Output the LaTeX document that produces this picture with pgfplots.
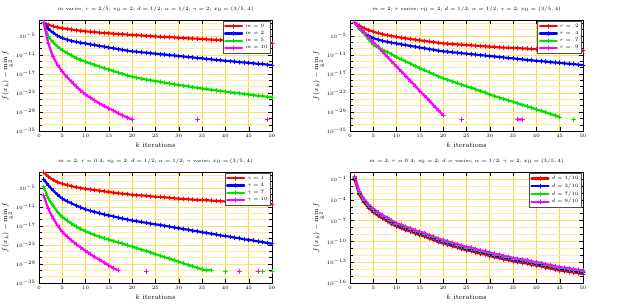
\documentclass[border=0pt]{standalone}
\usepackage{amsmath,amssymb}
\usepackage{pgfplots}
\usepackage{pgfplotstable}
\pgfplotsset{compat=1.18}
\definecolor{cred}{RGB}{255,0,0}
\definecolor{cblue}{RGB}{0,0,255}
\definecolor{cgreen}{RGB}{0,225,0}
\definecolor{cmag}{RGB}{255,0,255}
\definecolor{gmaj}{RGB}{252,214,60}
\definecolor{gymaj}{RGB}{252,225,110}
\definecolor{gmin}{RGB}{253,236,160}

\pgfplotstableread{
k a b c d
1 1.6e-1 1.6e-1 1.6e-1 1.6e-1
2 3.2e-2 1.6e-3 5e-6 4e-8
3 1e-2 1e-4 1e-7 2.5e-12
4 5e-3 1e-5 4e-9 6.3e-15
5 2.5e-3 2e-6 3.2e-10 5e-17
6 1.6e-3 6.3e-7 4e-11 1e-18
7 1e-3 2.5e-7 6.3e-12 3.2e-20
8 6.3e-4 1.3e-7 1e-12 1e-21
9 4e-4 6.3e-8 2.5e-13 5e-23
10 2.5e-4 4e-8 6.3e-14 3.2e-24
11 2e-4 2e-8 2e-14 3.2e-25
12 1.6e-4 1.3e-8 6.3e-15 4e-26
13 1e-4 6.3e-9 2e-15 5e-27
14 7.9e-5 4e-9 6.3e-16 7.9e-28
15 6.3e-5 2e-9 2.5e-16 1.3e-28
16 5e-5 1.3e-9 7.9e-17 2.5e-29
17 4e-5 6.3e-10 2.5e-17 4e-30
18 3.2e-5 4e-10 1e-17 7.9e-31
19 2.5e-5 2e-10 3.2e-18 1.6e-31
20 2e-5 1.3e-10 1.3e-18 4e-32
21 1.6e-5 1e-10 6.3e-19 nan
22 1.3e-5 6.3e-11 3.2e-19 nan
23 1e-5 5e-11 1.6e-19 nan
24 7.9e-6 3.2e-11 1e-19 nan
25 6.3e-6 2.5e-11 5e-20 nan
26 5e-6 1.6e-11 3.2e-20 nan
27 4.5e-6 1.3e-11 1.6e-20 nan
28 4e-6 7.9e-12 1e-20 nan
29 3.2e-6 6.3e-12 5e-21 nan
30 2.5e-6 4e-12 3.2e-21 nan
31 2e-6 3.2e-12 2e-21 nan
32 1.6e-6 2e-12 1.3e-21 nan
33 1.4e-6 1.6e-12 6.3e-22 nan
34 1.3e-6 1e-12 4e-22 4e-32
35 1e-6 7.9e-13 2.5e-22 nan
36 7.9e-7 5e-13 1.6e-22 nan
37 6.3e-7 4e-13 1e-22 nan
38 5.6e-7 2.5e-13 6.3e-23 nan
39 5e-7 2e-13 4e-23 nan
40 4e-7 1.3e-13 2.5e-23 nan
41 3.2e-7 1e-13 1.6e-23 nan
42 2.5e-7 7.9e-14 1e-23 nan
43 2.2e-7 5e-14 7.9e-24 nan
44 2e-7 4e-14 5e-24 nan
45 1.6e-7 3.2e-14 3.2e-24 nan
46 1.3e-7 2e-14 2e-24 nan
47 1e-7 1.6e-14 1.3e-24 nan
48 7.9e-8 1.3e-14 1e-24 nan
49 6.3e-8 7.9e-15 6.3e-25 4e-32
50 5e-8 6.3e-15 4e-25 nan
}\tabA

\pgfplotstableread{
k a b c d
1 1.6e-1 1.6e-1 1.6e-1 1.6e-1
2 1.6e-2 1.6e-3 2.5e-3 5e-3
3 2.5e-3 1e-4 5e-5 1.3e-4
4 6.3e-4 1e-5 7.9e-7 4e-6
5 2e-4 2e-6 1.6e-8 1e-7
6 7.9e-5 6.3e-7 2.5e-9 3.2e-9
7 3.2e-5 2.5e-7 4e-10 1e-10
8 1.6e-5 1.3e-7 7.9e-11 2.5e-12
9 7.9e-6 6.3e-8 1.3e-11 7.9e-14
10 5e-6 4e-8 2e-12 2e-15
11 2.5e-6 2e-8 4e-13 6.3e-17
12 1.6e-6 1.3e-8 7.9e-14 2e-18
13 1e-6 6.3e-9 1.6e-14 5e-20
14 6.3e-7 4e-9 3.2e-15 1.6e-21
15 4e-7 2e-9 6.3e-16 4e-23
16 2.5e-7 1.3e-9 1.6e-16 1.3e-24
17 1.6e-7 6.3e-10 3.2e-17 4e-26
18 1e-7 4e-10 7.9e-18 1e-27
19 6.3e-8 2e-10 1.6e-18 3.2e-29
20 4e-8 1.3e-10 4e-19 1e-30
21 3.2e-8 1e-10 1.3e-19 nan
22 2.5e-8 6.3e-11 4e-20 nan
23 2e-8 5e-11 1.3e-20 nan
24 1.6e-8 3.2e-11 4e-21 4e-32
25 1.3e-8 2.5e-11 1.3e-21 nan
26 1e-8 1.6e-11 4e-22 nan
27 7.9e-9 1.3e-11 1.3e-22 nan
28 6.3e-9 7.9e-12 4e-23 nan
29 5e-9 6.3e-12 1.3e-23 nan
30 4e-9 4e-12 3.2e-24 nan
31 3.2e-9 3.2e-12 1e-24 nan
32 2.5e-9 2e-12 3.2e-25 nan
33 2e-9 1.6e-12 1.3e-25 nan
34 1.8e-9 1e-12 4e-26 nan
35 1.6e-9 7.9e-13 1.6e-26 nan
36 1.3e-9 5e-13 5e-27 4e-32
37 1.1e-9 4e-13 1.6e-27 4e-32
38 1e-9 2.5e-13 6.3e-28 nan
39 7.9e-10 2e-13 2e-28 nan
40 6.3e-10 1.3e-13 6.3e-29 nan
41 5.6e-10 1e-13 2.5e-29 nan
42 5e-10 7.9e-14 7.9e-30 nan
43 4.5e-10 5e-14 2.5e-30 nan
44 4e-10 4e-14 7.9e-31 nan
45 3.5e-10 3.2e-14 2.5e-31 nan
46 3.2e-10 2e-14 nan nan
47 2.8e-10 1.6e-14 nan nan
48 2.5e-10 1.3e-14 4e-32 nan
49 2.2e-10 7.9e-15 nan nan
50 2e-10 6.3e-15 nan nan
}\tabB

\pgfplotstableread{
k a b c d
1 7.9e-1 5e-3 2e-5 4e-8
2 3.2e-2 6.3e-5 4e-9 2.5e-12
3 3.2e-3 1.6e-6 2.5e-11 3.2e-15
4 6.3e-4 6.3e-8 2.5e-13 1.3e-17
5 2e-4 4e-9 6.3e-15 1.3e-19
6 7.9e-5 6.3e-10 5e-16 5e-21
7 3.2e-5 1.3e-10 5e-17 2.5e-22
8 1.6e-5 2.5e-11 6.3e-18 1.6e-23
9 7.9e-6 6.3e-12 1e-18 1.3e-24
10 5e-6 1.6e-12 2e-19 1.3e-25
11 3.2e-6 6.3e-13 5e-20 1.3e-26
12 2e-6 2.5e-13 1.3e-20 1.6e-27
13 1.3e-6 1e-13 4e-21 2e-28
14 7.9e-7 4e-14 1.3e-21 2.5e-29
15 5e-7 2e-14 5e-22 3.2e-30
16 3.2e-7 1e-14 1.6e-22 5e-31
17 2e-7 4e-15 6.3e-23 1e-31
18 1.3e-7 2e-15 2.5e-23 nan
19 1e-7 1e-15 7.9e-24 nan
20 6.3e-8 5e-16 3.2e-24 nan
21 5e-8 3.2e-16 1e-24 nan
22 4e-8 1.6e-16 3.2e-25 nan
23 3.2e-8 1e-16 1.3e-25 4e-32
24 2e-8 5e-17 4e-26 nan
25 1.6e-8 3.2e-17 1.3e-26 nan
26 1.3e-8 2e-17 4e-27 nan
27 1e-8 1e-17 1.3e-27 nan
28 7.9e-9 6.3e-18 5e-28 nan
29 5e-9 3.2e-18 1.6e-28 nan
30 4e-9 2e-18 5e-29 nan
31 3.2e-9 1e-18 1.6e-29 nan
32 2.5e-9 6.3e-19 5e-30 nan
33 2e-9 3.2e-19 2e-30 nan
34 1.6e-9 2e-19 6.3e-31 nan
35 1.4e-9 1e-19 2e-31 nan
36 1.3e-9 6.3e-20 1e-31 nan
37 1e-9 3.2e-20 1e-31 nan
38 7.9e-10 2e-20 nan nan
39 6.3e-10 1e-20 nan nan
40 5e-10 6.3e-21 4e-32 nan
41 4e-10 4e-21 nan nan
42 3.2e-10 2e-21 nan nan
43 2.5e-10 1.3e-21 nan 4e-32
44 2.3e-10 6.3e-22 nan nan
45 2e-10 4e-22 nan nan
46 1.6e-10 2.5e-22 nan nan
47 1.3e-10 1.3e-22 nan 4e-32
48 1e-10 7.9e-23 4e-32 nan
49 7.9e-11 4e-23 nan nan
50 6.3e-11 2.5e-23 4e-32 nan
}\tabC

\pgfplotstableread{
k a b c d
1 6.3e-2 1.3e-1 1.8e-1 2.5e-1
2 5e-4 7.9e-4 1.1e-3 1.6e-3
3 4e-5 6.3e-5 8.9e-5 1.3e-4
4 6.3e-6 1e-5 1.4e-5 2e-5
5 1.6e-6 2.5e-6 3.5e-6 5e-6
6 5e-7 7.9e-7 1.1e-6 1.6e-6
7 2e-7 3.2e-7 4.5e-7 6.3e-7
8 7.9e-8 1.3e-7 1.8e-7 2.5e-7
9 3.2e-8 5e-8 7.1e-8 1e-7
10 1.3e-8 2e-8 2.8e-8 4e-8
11 7.9e-9 1.3e-8 1.8e-8 2.5e-8
12 4e-9 6.3e-9 8.9e-9 1.3e-8
13 2.5e-9 4e-9 5.6e-9 7.9e-9
14 1.3e-9 2e-9 2.8e-9 4e-9
15 7.9e-10 1.3e-9 1.8e-9 2.5e-9
16 5e-10 7.9e-10 1.1e-9 1.6e-9
17 2.5e-10 4e-10 5.6e-10 7.9e-10
18 1.6e-10 2.5e-10 3.5e-10 5e-10
19 7.9e-11 1.3e-10 1.8e-10 2.5e-10
20 5e-11 7.9e-11 1.1e-10 1.6e-10
21 3.2e-11 5e-11 7.1e-11 1e-10
22 2e-11 3.2e-11 4.5e-11 6.3e-11
23 1.3e-11 2e-11 2.8e-11 4e-11
24 7.9e-12 1.3e-11 1.8e-11 2.5e-11
25 5e-12 7.9e-12 1.1e-11 1.6e-11
26 4e-12 6.3e-12 8.9e-12 1.3e-11
27 2.5e-12 4e-12 5.6e-12 7.9e-12
28 1.6e-12 2.5e-12 3.5e-12 5e-12
29 1.3e-12 2e-12 2.8e-12 4e-12
30 7.9e-13 1.3e-12 1.8e-12 2.5e-12
31 5e-13 7.9e-13 1.1e-12 1.6e-12
32 4e-13 6.3e-13 8.9e-13 1.3e-12
33 2.5e-13 4e-13 5.6e-13 7.9e-13
34 2e-13 3.2e-13 4.5e-13 6.3e-13
35 1.3e-13 2e-13 2.8e-13 4e-13
36 1e-13 1.6e-13 2.2e-13 3.2e-13
37 7.9e-14 1.3e-13 1.8e-13 2.5e-13
38 6.3e-14 1e-13 1.4e-13 2e-13
39 4e-14 6.3e-14 8.9e-14 1.3e-13
40 3.2e-14 5e-14 7.1e-14 1e-13
41 2.5e-14 4e-14 5.6e-14 7.9e-14
42 1.6e-14 2.5e-14 3.5e-14 5e-14
43 1.3e-14 2e-14 2.8e-14 4e-14
44 7.9e-15 1.3e-14 1.8e-14 2.5e-14
45 6.3e-15 1e-14 1.4e-14 2e-14
46 5e-15 7.9e-15 1.1e-14 1.6e-14
47 4e-15 6.3e-15 8.9e-15 1.3e-14
48 3.2e-15 5e-15 7.1e-15 1e-14
49 2.5e-15 4e-15 5.6e-15 7.9e-15
50 2e-15 3.2e-15 4.5e-15 6.3e-15
}\tabD

\pgfplotsset{
  every axis/.append style={
    scale only axis, width=233pt, height=111pt,
    xmin=0, xmax=50, xtick={0,5,...,50},
    grid=both,
    major x grid style={gmaj, line width=0.7pt},
    major y grid style={gymaj, line width=0.5pt},
    minor y grid style={gmin, line width=0.5pt},
    tick label style={font=\fontsize{5.2}{6}\selectfont},
    xlabel style={font=\fontsize{7}{8}\selectfont, yshift=2pt},
    ylabel style={font=\fontsize{7}{8}\selectfont, yshift=-5pt},
    title style={font=\fontsize{4.6}{5.5}\selectfont, yshift=-1.5pt},
    unbounded coords=jump,
    tick style={black, line width=0.3pt},
    axis line style={line width=0.5pt},
    legend cell align=left,
    legend style={at={(0.995,0.995)}, anchor=north east,
      draw=black!70, line width=0.8pt, fill=white,
      font=\fontsize{4.3}{5}\selectfont, inner sep=1pt, row sep=-1.5pt},
  },
  every axis plot/.append style={line width=2.2pt, line join=round, line cap=round,
    mark=+, mark size=1.9pt, mark options={line width=0.9pt}},
}

\begin{document}
\begin{tikzpicture}
\useasboundingbox (0,0) rectangle (622pt,305pt);

\begin{axis}[ymode=log, at={(39pt,174pt)}, anchor=south west,
  ymin=1e-35, ymax=1,
  ytick={1e-35,1e-29,1e-23,1e-17,1e-11,1e-5},
  minor ytick={1e-1,1e-3,1e-7,1e-9,1e-13,1e-15,1e-19,1e-21,1e-25,1e-27,1e-31,1e-33},
  xlabel={$k$ iterations},
  ylabel={$f(x_k)-\min\limits_{\mathbb{R}^2} f$},
  title={$m$ varies, $r=2/5$; $v_0=2$; $d=1/2$; $\alpha=1/2$; $\gamma=2$; $x_0=(3/5,4)$}]
\addplot[color=cred] table[x=k,y=a] {\tabA};
\addplot[color=cblue] table[x=k,y=b] {\tabA};
\addplot[color=cgreen] table[x=k,y=c] {\tabA};
\addplot[color=cmag] table[x=k,y=d] {\tabA};
\legend{$m=0$,$m=2$,$m=5$,$m=10$}
\end{axis}

\begin{axis}[ymode=log, at={(350pt,174pt)}, anchor=south west,
  ymin=1e-35, ymax=1,
  ytick={1e-35,1e-29,1e-23,1e-17,1e-11,1e-5},
  minor ytick={1e-1,1e-3,1e-7,1e-9,1e-13,1e-15,1e-19,1e-21,1e-25,1e-27,1e-31,1e-33},
  xlabel={$k$ iterations},
  ylabel={$f(x_k)-\min\limits_{\mathbb{R}^2} f$},
  title={$m=2$; $r$ varies; $v_0=2$; $d=1/2$; $\alpha=1/2$; $\gamma=2$; $x_0=(3/5,4)$}]
\addplot[color=cred] table[x=k,y=a] {\tabB};
\addplot[color=cblue] table[x=k,y=b] {\tabB};
\addplot[color=cgreen] table[x=k,y=c] {\tabB};
\addplot[color=cmag] table[x=k,y=d] {\tabB};
\legend{$r=.2$,$r=.4$,$r=.7$,$r=.9$}
\end{axis}

\begin{axis}[ymode=log, at={(39pt,22pt)}, anchor=south west,
  ymin=1e-35, ymax=1,
  ytick={1e-35,1e-29,1e-23,1e-17,1e-11,1e-5},
  minor ytick={1e-1,1e-3,1e-7,1e-9,1e-13,1e-15,1e-19,1e-21,1e-25,1e-27,1e-31,1e-33},
  xlabel={$k$ iterations},
  ylabel={$f(x_k)-\min\limits_{\mathbb{R}^2} f$},
  title={$m=2$; $r=0.4$; $v_0=2$; $d=1/2$; $\alpha=1/2$; $\gamma$ varies; $x_0=(3/5,4)$}]
\addplot[color=cred] table[x=k,y=a] {\tabC};
\addplot[color=cblue] table[x=k,y=b] {\tabC};
\addplot[color=cgreen] table[x=k,y=c] {\tabC};
\addplot[color=cmag] table[x=k,y=d] {\tabC};
\legend{$\gamma=1$,$\gamma=4$,$\gamma=7$,$\gamma=10$}
\end{axis}

\begin{axis}[ymode=log, at={(350pt,22pt)}, anchor=south west,
  ymin=1e-16, ymax=1,
  ytick={1e-16,1e-13,1e-10,1e-7,1e-4,1e-1},
  minor ytick={1e-2,1e-3,1e-5,1e-6,1e-8,1e-9,1e-11,1e-12,1e-14,1e-15},
  xlabel={$k$ iterations},
  ylabel={$f(x_k)-\min\limits_{\mathbb{R}^2} f$},
  title={$m=2$; $r=0.4$; $v_0=2$; $d=$ varies; $\alpha=1/2$; $\gamma=2$; $x_0=(3/5,4)$}]
\addplot[color=cred] table[x=k,y=a] {\tabD};
\addplot[color=cblue] table[x=k,y=b] {\tabD};
\addplot[color=cgreen] table[x=k,y=c] {\tabD};
\addplot[color=cmag] table[x=k,y=d] {\tabD};
\legend{$d=1/10$,$d=3/10$,$d=7/10$,$d=9/10$}
\end{axis}
\end{tikzpicture}
\end{document}
